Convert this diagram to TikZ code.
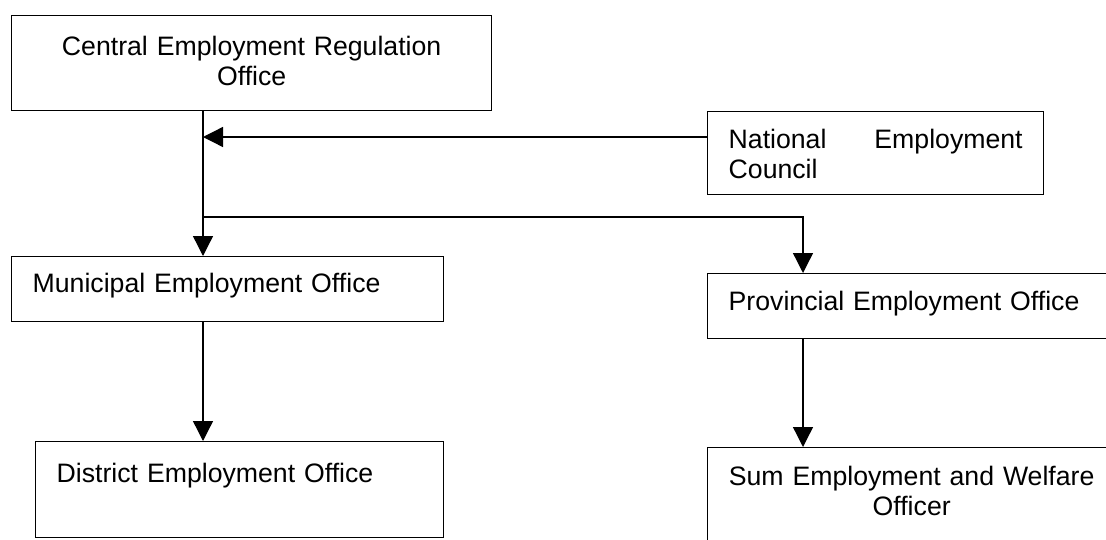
\documentclass[tikz,border=0pt]{standalone}
\usepackage{fontspec}
\setmainfont{Liberation Sans}
\usetikzlibrary{arrows.meta,positioning}
\tikzset{font=\fontsize{20}{22.5}\selectfont}
\tikzset{office/.style={draw,line width=1pt,rectangle,anchor=north west,inner ysep=0pt,inner xsep=15.75pt,align=left}}
\tikzset{flow/.style={line width=1pt,-{Triangle[length=15pt,width=15pt]}}}

\begin{document}
\begin{tikzpicture}[x=0.75pt,y=-0.75pt]
  \path[use as bounding box,clip] (0,0) rectangle (1106,539);
  \node[office,inner xsep=0pt,align=center,text width=360pt,text height=29.6pt,text depth=41.6pt] (central) at (11,15) {Central Employment Regulation\\Office};
  \node[office,align=justify,text width=220.5pt,text height=27.4pt,text depth=34.9pt] (council) at (707,111) {National Employment Council};
  \node[office,text width=292.5pt,text height=26.6pt,text depth=22.1pt] (municipal) at (11,256) {Municipal Employment Office};
  \node[office,text width=274.5pt,text height=27.4pt,text depth=21.4pt] (provincial) at (707,273) {Provincial Employment Office};
  \node[office,text width=274.5pt,text height=30.4pt,text depth=41.6pt] (district) at (35,441) {District Employment Office};
  \node[office,inner xsep=0pt,align=center,text width=306pt,text height=28.1pt,text depth=43.9pt] (sum) at (707,447) {Sum Employment and Welfare\\Officer};
  \coordinate (join) at (203,137);
  \coordinate (split) at (203,217);
  \coordinate (branch) at (803,217);
  \draw[flow] (central.south -| split) -- (municipal.north -| split);
  \draw[flow] (council.west |- join) -- (join);
  \draw[flow] (split) -- (branch) -- (provincial.north -| branch);
  \draw[flow] (municipal.south -| split) -- (district.north -| split);
  \draw[flow] (provincial.south -| branch) -- (sum.north -| branch);
\end{tikzpicture}
\end{document}
